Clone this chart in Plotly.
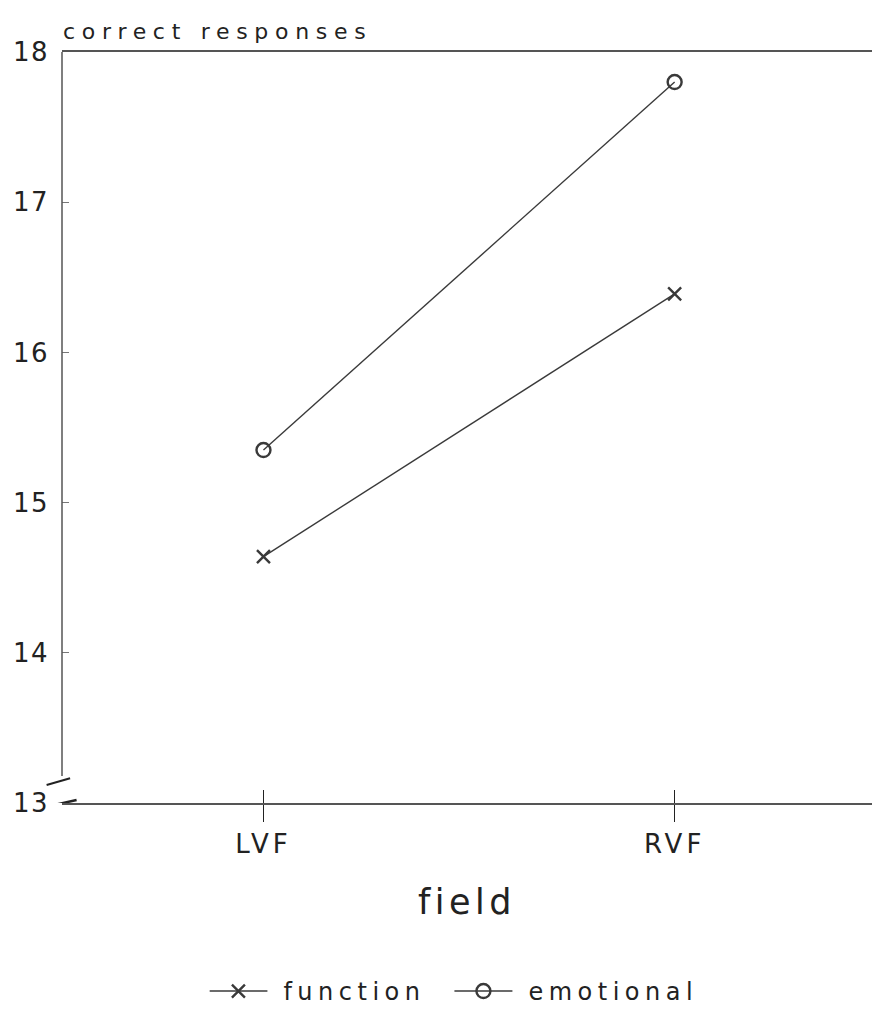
import plotly.graph_objects as go

fields = ["LVF", "RVF"]
function_vals = [14.64, 16.39]
emotional_vals = [15.35, 17.8]
y_ticks = [13, 14, 15, 16, 17, 18]

FONT = "DejaVu Sans"
INK = "#222222"
LINE = "#3a3a3a"

fig = go.Figure()
fig.add_trace(go.Scatter(
    x=fields, y=function_vals, name="function", mode="lines+markers",
    line=dict(color=LINE, width=1.4),
    marker=dict(symbol="x-thin-open", size=13, line=dict(color=INK, width=2.4)),
))
fig.add_trace(go.Scatter(
    x=fields, y=emotional_vals, name="emotional", mode="lines+markers",
    line=dict(color=LINE, width=1.4),
    marker=dict(symbol="circle-open", size=14, line=dict(color=INK, width=2.4)),
))
# invisible trace to carry the upper half of the x ticks
fig.add_trace(go.Scatter(x=fields, y=function_vals, xaxis="x2", mode="none",
                         showlegend=False, hoverinfo="skip"))

fig.update_layout(
    width=872, height=1014,
    paper_bgcolor="white", plot_bgcolor="white",
    margin=dict(l=62, r=0, t=52, b=198),
    font=dict(family=FONT, color=INK),
    xaxis=dict(
        type="category", range=[-0.49, 1.48],
        showline=True, linecolor="#555", linewidth=1.5, mirror=True,
        ticks="outside", ticklen=17, tickwidth=1.2, tickcolor=INK,
        showgrid=False, zeroline=False,
        tickfont=dict(size=26, family=FONT),
        title=dict(text="field", font=dict(size=35, family=FONT), standoff=32),
    ),
    xaxis2=dict(
        type="category", range=[-0.49, 1.48], overlaying="x", side="bottom",
        ticks="inside", ticklen=13, tickwidth=1.2, tickcolor=INK,
        showticklabels=False, showgrid=False, zeroline=False, showline=False,
    ),
    yaxis=dict(
        range=[13, 18], tickvals=y_ticks, ticktext=[str(v) for v in y_ticks],
        showline=False, showgrid=False, zeroline=False,
        ticks="inside", ticklen=7, tickwidth=1, tickcolor="#777",
        ticklabelstandoff=12,
        tickfont=dict(size=26, family=FONT),
    ),
    showlegend=True,
    legend=dict(orientation="h", x=0.182, xanchor="left", y=-0.221, yanchor="top",
                font=dict(size=24, family=FONT), entrywidth=200, tracegroupgap=0),
    annotations=[
        dict(text="correct responses", xref="paper", yref="paper",
             x=(217 - 62) / 810, y=1.0, xanchor="center", yanchor="bottom", yshift=6,
             showarrow=False, font=dict(size=22, family=FONT, color=INK)),
    ],
    shapes=[
        dict(type="line", xref="paper", yref="y", x0=0, x1=0, y0=13.18, y1=18,
             line=dict(color="#555", width=1.5)),
        dict(type="line", xref="paper", yref="y", x0=-0.019, x1=0.01, y0=13.12, y1=13.165,
             line=dict(color=INK, width=2)),
        dict(type="line", xref="paper", yref="y", x0=-0.011, x1=0.018, y0=12.985, y1=13.02,
             line=dict(color=INK, width=2.5)),
    ],
)

post = """
document.body.style.margin='0';
document.body.style.overflow='hidden';
var gd = document.getElementById('{plot_id}');
function sp(sel, v){ gd.querySelectorAll(sel).forEach(function(t){ t.style.letterSpacing = v; }); }
sp('.ytick text', '1.5px');
sp('.xtick text', '4px');
sp('.xtitle', '4.5px');
sp('.annotation-text', '6.7px');
sp('.legendtext', '5.5px');
gd.querySelectorAll('.legend .traces').forEach(function(tr){
  tr.querySelectorAll('.legendlines path').forEach(function(p){ p.setAttribute('d', 'M0,0h58'); });
  tr.querySelectorAll('.legendpoints path').forEach(function(p){ p.setAttribute('transform', 'translate(29,0)'); });
  tr.querySelectorAll('.legendtext').forEach(function(t){ t.setAttribute('x', '74'); });
});
"""

fig.write_html("out.html", post_script=post, config={"displayModeBar": False})
